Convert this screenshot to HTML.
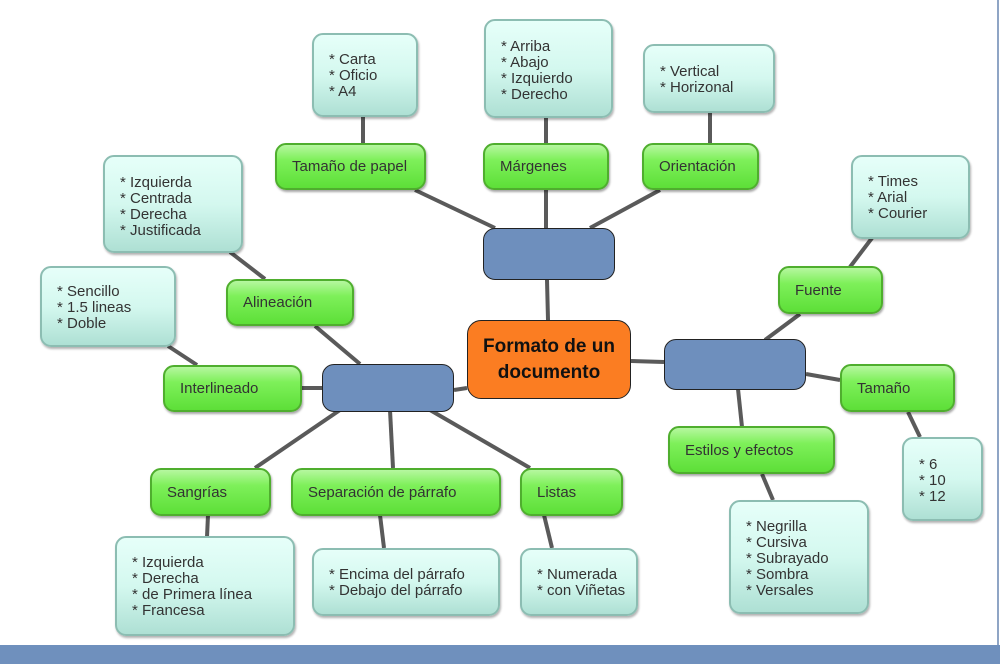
<!DOCTYPE html>
<html><head><meta charset="utf-8"><style>
*{margin:0;padding:0;box-sizing:border-box}
body{width:1000px;height:664px;position:relative;background:#fff;overflow:hidden;font-family:"Liberation Sans",Arial,sans-serif}
.g{position:absolute;border:2px solid #4fae2e;border-radius:11px;background:linear-gradient(#b6f7a0 0%,#7ef05a 35%,#5ddf38 100%);box-shadow:1px 2px 2px rgba(0,0,0,.35);font-size:15px;color:#333;padding-left:15px;display:flex;align-items:center}
.t{position:absolute;border:2px solid #8cbdb2;border-radius:11px;background:linear-gradient(#e6fff9 0%,#d4f8ef 50%,#aee0d4 100%);box-shadow:1px 2px 2px rgba(0,0,0,.3);font-size:15px;color:#333;line-height:16px;padding-left:15px}
.b{position:absolute;background:#6e8fbd;border:1.5px solid #222;border-radius:12px}
</style></head><body>
<svg width="1000" height="664" style="position:absolute;left:0;top:0">
<g stroke="#5a5a5a" stroke-width="4" fill="none">
<line x1="363" y1="117" x2="363" y2="143"/>
<line x1="546" y1="118" x2="546" y2="143"/>
<line x1="710" y1="113" x2="710" y2="143"/>
<line x1="415" y1="190" x2="495" y2="228"/>
<line x1="546" y1="190" x2="546" y2="228"/>
<line x1="660" y1="190" x2="590" y2="228"/>
<line x1="547" y1="280" x2="548" y2="320"/>
<line x1="230" y1="252" x2="265" y2="279"/>
<line x1="168" y1="346" x2="197" y2="365"/>
<line x1="315" y1="326" x2="360" y2="364"/>
<line x1="300" y1="388" x2="322" y2="388"/>
<line x1="454" y1="390" x2="467" y2="388"/>
<line x1="340" y1="410" x2="255" y2="468"/>
<line x1="390" y1="410" x2="393" y2="468"/>
<line x1="430" y1="410" x2="530" y2="468"/>
<line x1="208" y1="515" x2="207" y2="537"/>
<line x1="380" y1="515" x2="384" y2="548"/>
<line x1="544" y1="515" x2="552" y2="548"/>
<line x1="631" y1="361" x2="664" y2="362"/>
<line x1="872" y1="238" x2="850" y2="267"/>
<line x1="800" y1="314" x2="765" y2="340"/>
<line x1="806" y1="374" x2="840" y2="380"/>
<line x1="738" y1="389" x2="742" y2="427"/>
<line x1="908" y1="412" x2="920" y2="437"/>
<line x1="762" y1="474" x2="773" y2="500"/>
</g>
<line x1="998" y1="0" x2="998" y2="645" stroke="#8fa5c5" stroke-width="2"/>
</svg>
<div class="t" style="left:312px;top:33px;width:106px;height:84px;padding-top:17px">* Carta<br>* Oficio<br>* A4</div>
<div class="t" style="left:484px;top:19px;width:129px;height:99px;padding-top:18px">* Arriba<br>* Abajo<br>* Izquierdo<br>* Derecho</div>
<div class="t" style="left:643px;top:44px;width:132px;height:69px;padding-top:18px">* Vertical<br>* Horizonal</div>
<div class="t" style="left:103px;top:155px;width:140px;height:98px;padding-top:18px">* Izquierda<br>* Centrada<br>* Derecha<br>* Justificada</div>
<div class="t" style="left:40px;top:266px;width:136px;height:81px;padding-top:16px">* Sencillo<br>* 1.5 lineas<br>* Doble</div>
<div class="t" style="left:851px;top:155px;width:119px;height:84px;padding-top:17px">* Times<br>* Arial<br>* Courier</div>
<div class="t" style="left:902px;top:437px;width:81px;height:84px;padding-top:18px">* 6<br>* 10<br>* 12</div>
<div class="t" style="left:115px;top:536px;width:180px;height:100px;padding-top:17px">* Izquierda<br>* Derecha<br>* de Primera línea<br>* Francesa</div>
<div class="t" style="left:312px;top:548px;width:188px;height:68px;padding-top:17px">* Encima del párrafo<br>* Debajo del párrafo</div>
<div class="t" style="left:520px;top:548px;width:118px;height:68px;padding-top:17px">* Numerada<br>* con Viñetas</div>
<div class="t" style="left:729px;top:500px;width:140px;height:114px;padding-top:17px">* Negrilla<br>* Cursiva<br>* Subrayado<br>* Sombra<br>* Versales</div>

<div class="g" style="left:275px;top:143px;width:151px;height:47px">Tamaño de papel</div>
<div class="g" style="left:483px;top:143px;width:126px;height:47px">Márgenes</div>
<div class="g" style="left:642px;top:143px;width:117px;height:47px">Orientación</div>
<div class="g" style="left:226px;top:279px;width:128px;height:47px">Alineación</div>
<div class="g" style="left:163px;top:365px;width:139px;height:47px">Interlineado</div>
<div class="g" style="left:778px;top:266px;width:105px;height:48px">Fuente</div>
<div class="g" style="left:840px;top:364px;width:115px;height:48px">Tamaño</div>
<div class="g" style="left:668px;top:426px;width:167px;height:48px">Estilos y efectos</div>
<div class="g" style="left:150px;top:468px;width:121px;height:48px">Sangrías</div>
<div class="g" style="left:291px;top:468px;width:210px;height:48px">Separación de párrafo</div>
<div class="g" style="left:520px;top:468px;width:103px;height:48px">Listas</div>

<div class="b" style="left:483px;top:228px;width:132px;height:52px"></div>
<div class="b" style="left:322px;top:364px;width:132px;height:48px"></div>
<div class="b" style="left:664px;top:339px;width:142px;height:51px"></div>
<div style="position:absolute;left:467px;top:320px;width:164px;height:79px;background:#fb7d22;border:1.5px solid #222;border-radius:14px;color:#111;font-weight:bold;font-size:19px;line-height:26px;text-align:center;padding-top:13px">Formato de un<br>documento</div>
<div style="position:absolute;left:0;top:645px;width:1000px;height:19px;background:#6f90bd"></div>
</body></html>
